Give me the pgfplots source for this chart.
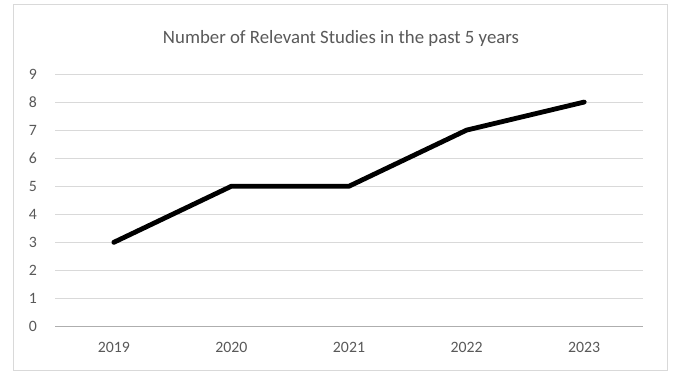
\documentclass[border=0pt]{standalone}
\usepackage{pgfplots}
\pgfplotsset{compat=1.18}
\usepackage{fontspec}
\setmainfont{Carlito}
\definecolor{txt}{HTML}{595959}
\definecolor{grd}{HTML}{D9D9D9}
\begin{document}
\begin{tikzpicture}
\fill[white] (0pt,0pt) rectangle (674pt,372pt);
\draw[grd, line width=1pt] (13pt,2pt) rectangle (667pt,367pt);
\begin{axis}[
  at={(55pt,45.5pt)}, anchor=south west,
  scale only axis, width=588pt, height=252.5pt,
  xmin=-0.5, xmax=4.5, ymin=0, ymax=9,
  xtick={0,1,2,3,4}, xticklabels={2019,2020,2021,2022,2023},
  ytick={0,...,9},
  ymajorgrids, grid style={grd, line width=1pt},
  axis x line*=bottom, axis y line*=left,
  x axis line style={grd!80!black, line width=1pt, -},
  y axis line style={draw=none},
  tick style={draw=none},
  ticklabel style={font=\fontsize{15.8}{18}\selectfont, text=txt, inner sep=0pt},
  /pgf/number format/assume math mode=true,
  xticklabel style={anchor=base, yshift=-26pt},
  yticklabel style={anchor=base east, xshift=-18pt, yshift=-5.1pt},
  clip=false,
]
\addplot[black, line width=4.8pt, line join=round, line cap=round] coordinates {(0,3) (1,5) (2,5) (3,7) (4,8)};
\end{axis}
\node[text=txt, font=\fontsize{18.8}{22}\selectfont, anchor=base, inner sep=0pt] at (341pt,328.5pt) {Number of Relevant Studies in the past 5 years};
\end{tikzpicture}
\end{document}
